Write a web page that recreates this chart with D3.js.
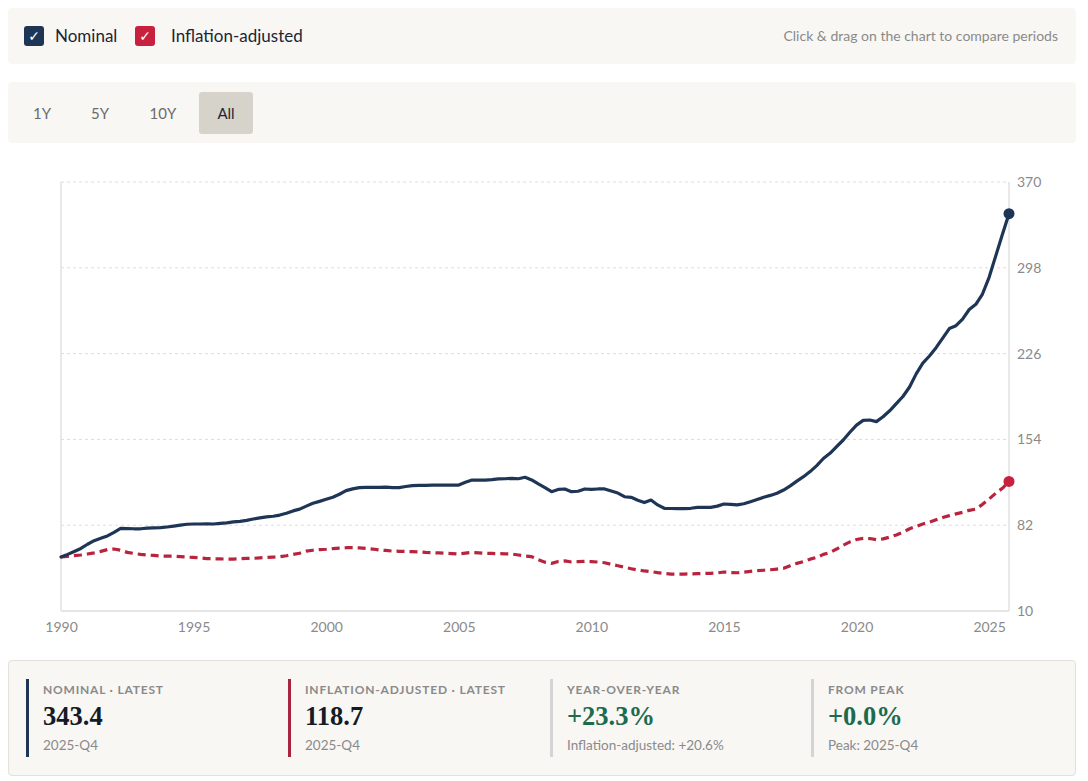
<!DOCTYPE html>
<html>
<head>
<meta charset="utf-8">
<script src="https://cdn.jsdelivr.net/npm/d3@7"></script>
<style>
  html, body { margin:0; padding:0; background:#ffffff; width:1088px; height:781px; overflow:hidden; }
  body { font-family: Lato, "Open Sans", sans-serif; position:relative; color:#1c2a3a; }
  .panel { position:absolute; background:#f8f7f4; border-radius:4px; }
  .cb { position:absolute; width:20px; height:20px; border-radius:3px; color:#fff; font-size:14px; line-height:20px; text-align:center; font-family:"DejaVu Sans", sans-serif; }
  .lg { position:absolute; font-size:17px; color:#1d2535; }
  .hint { position:absolute; right:30px; top:27px; font-size:14px; color:#8a8a8a; }
  .btn { position:absolute; top:92px; height:42px; line-height:42px; font-size:15px; color:#666; text-align:center; border-radius:3px; }
  .stat-bar { position:absolute; top:679px; width:3px; height:78px; }
  .stat-lab { position:absolute; top:682px; font-size:12px; font-weight:700; letter-spacing:0.8px; color:#8a8a8a; }
  .stat-val { position:absolute; top:701px; font-family:"Liberation Serif", "DejaVu Serif", serif; font-weight:700; font-size:26.5px; color:#141a26; }
  .stat-sub { position:absolute; top:737px; font-size:13.5px; color:#8a8a8a; }
  svg { position:absolute; left:0; top:0; }
</style>
</head>
<body>
<div class="panel" style="left:8px;top:8px;width:1068px;height:56px;"></div>
<div class="panel" style="left:8px;top:82px;width:1068px;height:61px;"></div>
<div class="panel" style="left:8px;top:660px;width:1066px;height:114px;border:1px solid #e4e1da;"></div>
<div id="legend"></div>
<div class="hint">Click &amp; drag on the chart to compare periods</div>
<div id="buttons"></div>
<div id="stats"></div>
<svg id="chart" width="1088" height="660"></svg>
<script>
// ---------------- DATA ----------------
const seriesNames = ["Nominal", "Inflation-adjusted"];
const startYear = 1990;
const quarterLabels = ["Q1", "Q2", "Q3", "Q4"];

// Quarterly values 1990-Q1 .. 2025-Q4
const nominalValues = [
  55.3, 57.5, 60.0, 62.5,   // 1990
  66.0, 69.0, 71.0, 73.0,   // 1991
  76.0, 79.4, 79.2, 79.0,   // 1992
  79.0, 79.5, 79.8, 79.9,   // 1993
  80.5, 81.2, 82.0, 82.8,   // 1994
  83.0, 83.0, 83.1, 83.0,   // 1995
  83.5, 84.0, 84.8, 85.2,   // 1996
  86.0, 87.2, 88.2, 89.0,   // 1997
  89.5, 90.5, 92.0, 94.0,   // 1998
  95.5, 98.0, 100.4, 102.0, // 1999
  103.7, 105.5, 108.0, 111.0, // 2000
  112.5, 113.5, 113.7, 113.8, // 2001
  113.8, 114.0, 113.5, 113.5, // 2002
  114.5, 115.2, 115.4, 115.5, // 2003
  115.6, 115.7, 115.7, 115.7, // 2004
  115.7, 118.0, 119.9, 119.9, // 2005
  119.9, 120.2, 120.8, 121.0, // 2006
  121.3, 121.0, 122.2, 120.0, // 2007
  116.6, 113.5, 110.1, 112.0, // 2008
  112.4, 110.1, 110.5, 112.4, // 2009
  112.0, 112.4, 112.4, 110.7, // 2010
  109.0, 105.9, 105.4, 103.0, // 2011
  101.0, 103.1, 99.0, 96.2,   // 2012
  96.0, 95.9, 95.9, 96.2,     // 2013
  97.0, 97.0, 97.0, 98.0,     // 2014
  99.8, 99.5, 99.0, 100.0,    // 2015
  101.7, 103.5, 105.4, 107.0, // 2016
  108.8, 111.5, 115.0, 119.0, // 2017
  122.7, 127.0, 132.0, 138.0, // 2018
  142.3, 148.0, 153.5, 160.0, // 2019
  166.0, 170.0, 170.3, 168.9, // 2020
  173.0, 178.0, 184.0, 190.0, // 2021
  198.0, 209.0, 218.0, 224.0, // 2022
  231.0, 239.0, 247.0, 249.4, // 2023
  255.0, 263.0, 267.4, 276.0, // 2024
  290.0, 308.0, 326.0, 343.4  // 2025
];
const realValues = [
  55.3, 55.8, 56.5, 57.0,   // 1990
  57.8, 58.8, 60.0, 61.5,   // 1991
  62.0, 61.0, 59.2, 58.3,   // 1992
  57.5, 57.0, 56.6, 56.2,   // 1993
  56.0, 56.0, 55.6, 55.2,   // 1994
  55.0, 54.5, 54.0, 53.8,   // 1995
  53.7, 53.6, 53.6, 53.8,   // 1996
  54.2, 54.2, 54.6, 55.0,   // 1997
  55.2, 55.5, 56.4, 57.5,   // 1998
  58.5, 60.3, 61.0, 61.5,   // 1999
  61.8, 62.3, 62.8, 63.1,   // 2000
  63.1, 62.9, 62.5, 62.0,   // 2001
  61.2, 60.8, 60.3, 60.1,   // 2002
  60.0, 59.8, 59.6, 59.2,   // 2003
  59.0, 58.7, 58.4, 58.2,   // 2004
  57.8, 58.5, 59.2, 58.8,   // 2005
  58.4, 58.3, 58.1, 58.0,   // 2006
  57.8, 57.0, 56.2, 55.6,   // 2007
  53.0, 51.0, 50.0, 51.5,   // 2008
  52.0, 51.1, 51.4, 51.7,   // 2009
  51.5, 51.1, 50.5, 49.2,   // 2010
  48.0, 46.7, 45.5, 44.4,   // 2011
  43.6, 43.1, 42.2, 41.5,   // 2012
  41.0, 41.0, 41.0, 41.2,   // 2013
  41.3, 41.5, 41.6, 42.0,   // 2014
  42.7, 42.3, 42.1, 42.6,   // 2015
  43.3, 43.8, 44.2, 44.6,   // 2016
  45.2, 45.8, 48.0, 50.0,   // 2017
  51.5, 53.5, 55.0, 57.5,   // 2018
  59.0, 62.0, 65.2, 68.0,   // 2019
  70.0, 71.0, 70.8, 69.8,   // 2020
  70.5, 72.0, 73.8, 76.0,   // 2021
  79.0, 81.0, 83.0, 84.5,   // 2022
  86.5, 88.5, 90.0, 91.5,   // 2023
  92.8, 94.5, 95.5, 99.5,   // 2024
  104.0, 108.8, 113.0, 118.7 // 2025
];
const yTickValues = [10, 82, 154, 226, 298, 370];
const xTickValues = [1990, 1995, 2000, 2005, 2010, 2015, 2020, 2025];
const rangeButtons = ["1Y", "5Y", "10Y", "All"];
const statLabels = ["NOMINAL · LATEST", "INFLATION-ADJUSTED · LATEST", "YEAR-OVER-YEAR", "FROM PEAK"];
const statValues = ["343.4", "118.7", "+23.3%", "+0.0%"];
const statSubs = ["2025-Q4", "2025-Q4", "Inflation-adjusted: +20.6%", "Peak: 2025-Q4"];

// ---------------- COLORS ----------------
const navy = "#1e3556";
const red = "#b8243e";
const redBox = "#c8203f";
const green = "#1d6b4f";

// ---------------- LEGEND ----------------
const legend = d3.select("#legend");
const legendItems = [
  {name: seriesNames[0], color: navy, boxX: 24, textX: 55},
  {name: seriesNames[1], color: redBox, boxX: 135, textX: 171}
];
legendItems.forEach(d => {
  legend.append("div").attr("class", "cb")
    .style("left", d.boxX + "px").style("top", "26px").style("background", d.color).text("✓");
  legend.append("div").attr("class", "lg")
    .style("left", d.textX + "px").style("top", "25px").text(d.name);
});

// ---------------- BUTTONS ----------------
const btnPos = [{x: 20, w: 44}, {x: 78, w: 44}, {x: 136, w: 54}, {x: 199, w: 54}];
d3.select("#buttons").selectAll("div").data(rangeButtons).join("div")
  .attr("class", "btn")
  .style("left", (d, i) => btnPos[i].x + "px")
  .style("width", (d, i) => btnPos[i].w + "px")
  .style("background", d => d === "All" ? "#d6d3cb" : "transparent")
  .style("color", d => d === "All" ? "#1d2535" : "#6b6b6b")
  .text(d => d);

// ---------------- CHART ----------------
const data = nominalValues.map((v, i) => ({
  t: startYear + i * 0.25,
  label: (startYear + Math.floor(i / 4)) + "-" + quarterLabels[i % 4],
  nominal: v,
  real: realValues[i]
}));

const svg = d3.select("#chart");
const x = d3.scaleLinear().domain([startYear, data[data.length - 1].t]).range([61, 1009]);
const y = d3.scaleLinear().domain([10, 370]).range([611, 182]);

// gridlines
svg.append("g").selectAll("line").data(yTickValues.filter(v => v !== 10)).join("line")
  .attr("x1", 61).attr("x2", 1009)
  .attr("y1", d => y(d)).attr("y2", d => y(d))
  .attr("stroke", "#dddddd").attr("stroke-width", 1).attr("stroke-dasharray", "3,3");

// frame
svg.append("line").attr("x1", 61).attr("x2", 61).attr("y1", 182).attr("y2", 611).attr("stroke", "#e2e2e2").attr("stroke-width", 1.5);
svg.append("line").attr("x1", 1009).attr("x2", 1009).attr("y1", 182).attr("y2", 611).attr("stroke", "#e2e2e2").attr("stroke-width", 1.5);
svg.append("line").attr("x1", 61).attr("x2", 1009).attr("y1", 611).attr("y2", 611).attr("stroke", "#dcdcdc").attr("stroke-width", 1.5);

// axes
const yAxis = svg.append("g").attr("transform", "translate(1009,0)")
  .call(d3.axisRight(y).tickValues(yTickValues).tickSize(0).tickPadding(8).tickFormat(d3.format("d")));
yAxis.select(".domain").remove();
yAxis.selectAll("text").attr("fill", "#8a8a8a").style("font-size", "14px").style("font-family", "Lato, sans-serif");

const xAxis = svg.append("g").attr("transform", "translate(0,611)")
  .call(d3.axisBottom(x).tickValues(xTickValues).tickSize(0).tickPadding(11).tickFormat(d3.format("d")));
xAxis.select(".domain").remove();
xAxis.selectAll("text").attr("fill", "#8a8a8a").style("font-size", "14px").style("font-family", "Lato, sans-serif");

// lines
const lineReal = d3.line().x(d => x(d.t)).y(d => y(d.real));
const lineNom = d3.line().x(d => x(d.t)).y(d => y(d.nominal));
svg.append("path").datum(data).attr("d", lineReal)
  .attr("fill", "none").attr("stroke", red).attr("stroke-width", 3.2)
  .attr("stroke-dasharray", "8,5").attr("stroke-linejoin", "round");
svg.append("path").datum(data).attr("d", lineNom)
  .attr("fill", "none").attr("stroke", navy).attr("stroke-width", 3.2)
  .attr("stroke-linejoin", "round").attr("stroke-linecap", "round");

const last = data[data.length - 1];
svg.append("circle").attr("cx", x(last.t)).attr("cy", y(last.nominal)).attr("r", 5.5).attr("fill", navy);
svg.append("circle").attr("cx", x(last.t)).attr("cy", y(last.real)).attr("r", 5.5).attr("fill", redBox);

// ---------------- STATS ----------------
const statX = [26, 288, 550, 811];
const barColors = [navy, "#a8243f", "#d4d4d4", "#d4d4d4"];
const valColors = ["#141a26", "#141a26", green, green];
const stats = d3.select("#stats");
statLabels.forEach((lab, i) => {
  stats.append("div").attr("class", "stat-bar").style("left", statX[i] + "px").style("background", barColors[i]);
  stats.append("div").attr("class", "stat-lab").style("left", (statX[i] + 17) + "px").text(lab);
  stats.append("div").attr("class", "stat-val").style("left", (statX[i] + 17) + "px").style("color", valColors[i]).text(statValues[i]);
  stats.append("div").attr("class", "stat-sub").style("left", (statX[i] + 17) + "px").text(statSubs[i]);
});
</script>
</body>
</html>
